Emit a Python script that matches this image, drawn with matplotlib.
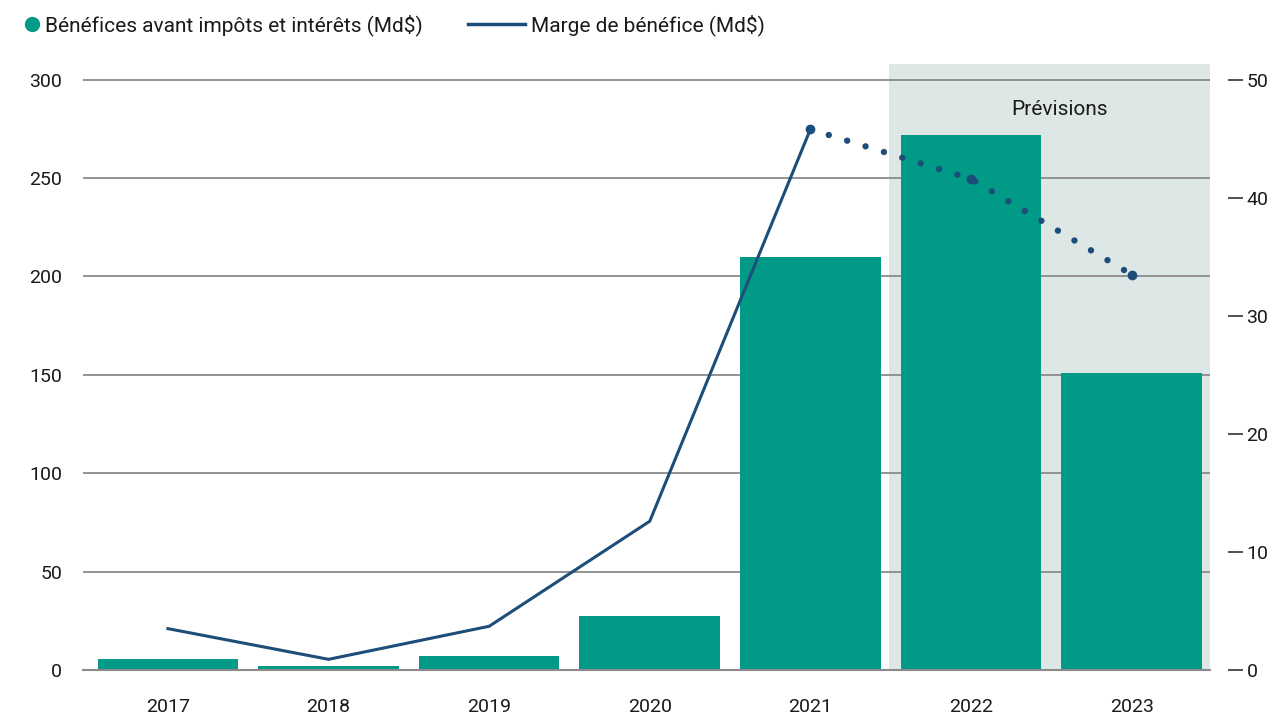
import matplotlib.pyplot as plt
from matplotlib.lines import Line2D
import numpy as np

plt.rcParams['font.family'] = ['Roboto', 'DejaVu Sans']

years = ['2017', '2018', '2019', '2020', '2021', '2022', '2023']
ebit = [5.5, 2, 7, 27.5, 210, 272, 151]          # Md$, left axis
margin = [3.5, 0.9, 3.7, 12.6, 45.8, 41.6, 33.5]  # right axis
n_actual = 5  # 2017-2021 actual, rest forecast

teal = '#009a87'
navy = '#1d4e79'
shade = '#dde8e6'
grid_c = '#8a8a8a'
txt_c = '#1a1a1a'

fig = plt.figure(figsize=(12.74, 7.15), dpi=100)
ax = fig.add_axes([0.065, 0.063, 0.885, 0.8475])
x = np.arange(len(years))

ax.axvspan(4.49, 6.49, color=shade, zorder=0, lw=0)
ax.set_ylim(0, 308)
ax.set_xlim(-0.53, 6.49)
ax.set_yticks([0, 50, 100, 150, 200, 250, 300])
ax.yaxis.grid(True, color=grid_c, lw=1.3)
ax.set_axisbelow(True)
ax.bar(x, ebit, width=0.875, color=teal, zorder=2)

for s in ['top', 'right', 'left']:
    ax.spines[s].set_visible(False)
ax.spines['bottom'].set_color(grid_c)
ax.spines['bottom'].set_linewidth(1.5)
ax.spines['bottom'].set_zorder(3)
ax.set_xticks(x)
ax.set_xticklabels(years)
ax.tick_params(axis='x', length=0, pad=20, labelsize=14, colors=txt_c)
ax.tick_params(axis='y', length=0, pad=15, labelsize=14, colors=txt_c)

ax.text(5.55, 285, 'Prévisions', ha='center', va='center', fontsize=15, color=txt_c)

ax2 = ax.twinx()
ax2.set_ylim(0, 308 / 6)
ax2.set_yticks([0, 10, 20, 30, 40, 50])
for s in ['top', 'left', 'bottom', 'right']:
    ax2.spines[s].set_visible(False)
ax2.spines['right'].set_position(('outward', 13))
ax2.tick_params(axis='y', length=11, width=1.2, color='#333333', pad=2,
                labelsize=14, labelcolor=txt_c)

ax2.plot(x[:n_actual], margin[:n_actual], color=navy, lw=2.2, zorder=4)
ax2.plot(x[n_actual - 1:], margin[n_actual - 1:], color=navy, lw=4.6,
         linestyle=(0, (0.01, 3.0)), dash_capstyle='round', zorder=4)
ax2.plot(x[n_actual - 1:], margin[n_actual - 1:], 'o', color=navy, ms=6, zorder=5)

leg1 = fig.legend([Line2D([], [], marker='o', ls='none', color=teal, ms=10)],
                  ['Bénéfices avant impôts et intérêts (Md$)'],
                  loc='center left', bbox_to_anchor=(25 / 1274, 0.965), frameon=False,
                  fontsize=15, handlelength=0.65, handletextpad=0.31,
                  borderpad=0, borderaxespad=0)
for t in leg1.get_texts():
    t.set_color(txt_c)
leg2 = fig.legend([Line2D([], [], color=navy, lw=2.5)],
                  ['Marge de bénéfice (Md$)'],
                  loc='center left', bbox_to_anchor=(468 / 1274, 0.965), frameon=False,
                  fontsize=15, handlelength=2.74, handletextpad=0.3,
                  borderpad=0, borderaxespad=0)
for t in leg2.get_texts():
    t.set_color(txt_c)

fig.savefig('out.png', dpi=100)
